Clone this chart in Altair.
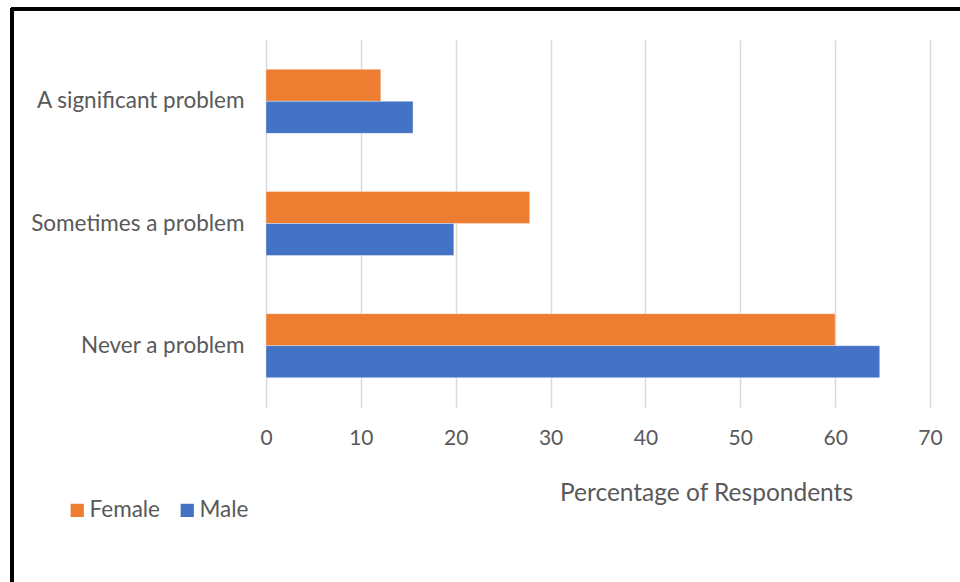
import altair as alt
import pandas as pd

categories = ["A significant problem", "Sometimes a problem", "Never a problem"]
female = [12.1, 27.8, 60.0]
male = [15.5, 19.8, 64.7]
genders = ["Female", "Male"]
colors = ["#ED7D31", "#4472C4"]
x_ticks = [0, 10, 20, 30, 40, 50, 60, 70]

rows = []
for c, f, m in zip(categories, female, male):
    rows.append({"Response": c, "Gender": "Female", "Percent": f})
    rows.append({"Response": c, "Gender": "Male", "Percent": m})
df = pd.DataFrame(rows)

FONT = "Lato"
GREY = "#595959"

bars = alt.Chart(df).mark_bar(stroke="white", strokeWidth=0.6, strokeOpacity=0.6).encode(
    x=alt.X(
        "Percent:Q",
        scale=alt.Scale(domain=[0, 70], nice=False),
        axis=alt.Axis(
            values=x_ticks,
            title="Percentage of Respondents",
            titleX=440,
            titleY=86,
            titleBaseline="middle",
            titleAnchor="middle",
            titleFontSize=24.5,
            titleFontWeight="normal",
            titleColor=GREY,
            titleFont=FONT,
            labelFont=FONT,
            labelFontSize=21,
            labelColor=GREY,
            labelPadding=20,
            labelFlush=False,
            ticks=False,
            domain=False,
            grid=True,
            gridColor="#D9D9D9",
            gridWidth=1.5,
        ),
    ),
    y=alt.Y(
        "Response:N",
        sort=categories,
        scale=alt.Scale(paddingInner=0.476, paddingOuter=0.24),
        axis=alt.Axis(
            title=None,
            labelFont=FONT,
            labelFontSize=22.5,
            labelColor=GREY,
            labelPadding=22,
            ticks=False,
            domain=False,
            labelLimit=300,
        ),
    ),
    yOffset=alt.YOffset("Gender:N", sort=genders),
    color=alt.Color(
        "Gender:N",
        sort=genders,
        scale=alt.Scale(domain=genders, range=colors),
        legend=alt.Legend(
            title=None,
            orient="none",
            legendX=-200,
            legendY=459,
            direction="horizontal",
            symbolType="square",
            symbolSize=175,
            symbolStrokeWidth=0,
            labelFont=FONT,
            labelFontSize=22.5,
            labelColor=GREY,
            labelOffset=1,
            columnPadding=15,
        ),
    ),
)

# frame around the figure (left and top edges)
frame_top = alt.Chart(df).mark_rule(color="black", strokeWidth=3, clip=False).encode(
    x=alt.value(-255), x2=alt.value(720), y=alt.value(-31)
)
frame_left = alt.Chart(df).mark_rule(color="black", strokeWidth=3, clip=False).encode(
    x=alt.value(-254), y=alt.value(-32), y2=alt.value(560)
)

chart = alt.layer(bars, frame_top, frame_left).properties(
    width=664,
    height=367,
    autosize=alt.AutoSizeParams(type="none"),
    padding={"left": 266, "top": 40, "right": 30, "bottom": 175},
    background="white",
).configure_view(stroke=None)

chart.save("out.html", embed_options={"renderer": "svg", "actions": False})
